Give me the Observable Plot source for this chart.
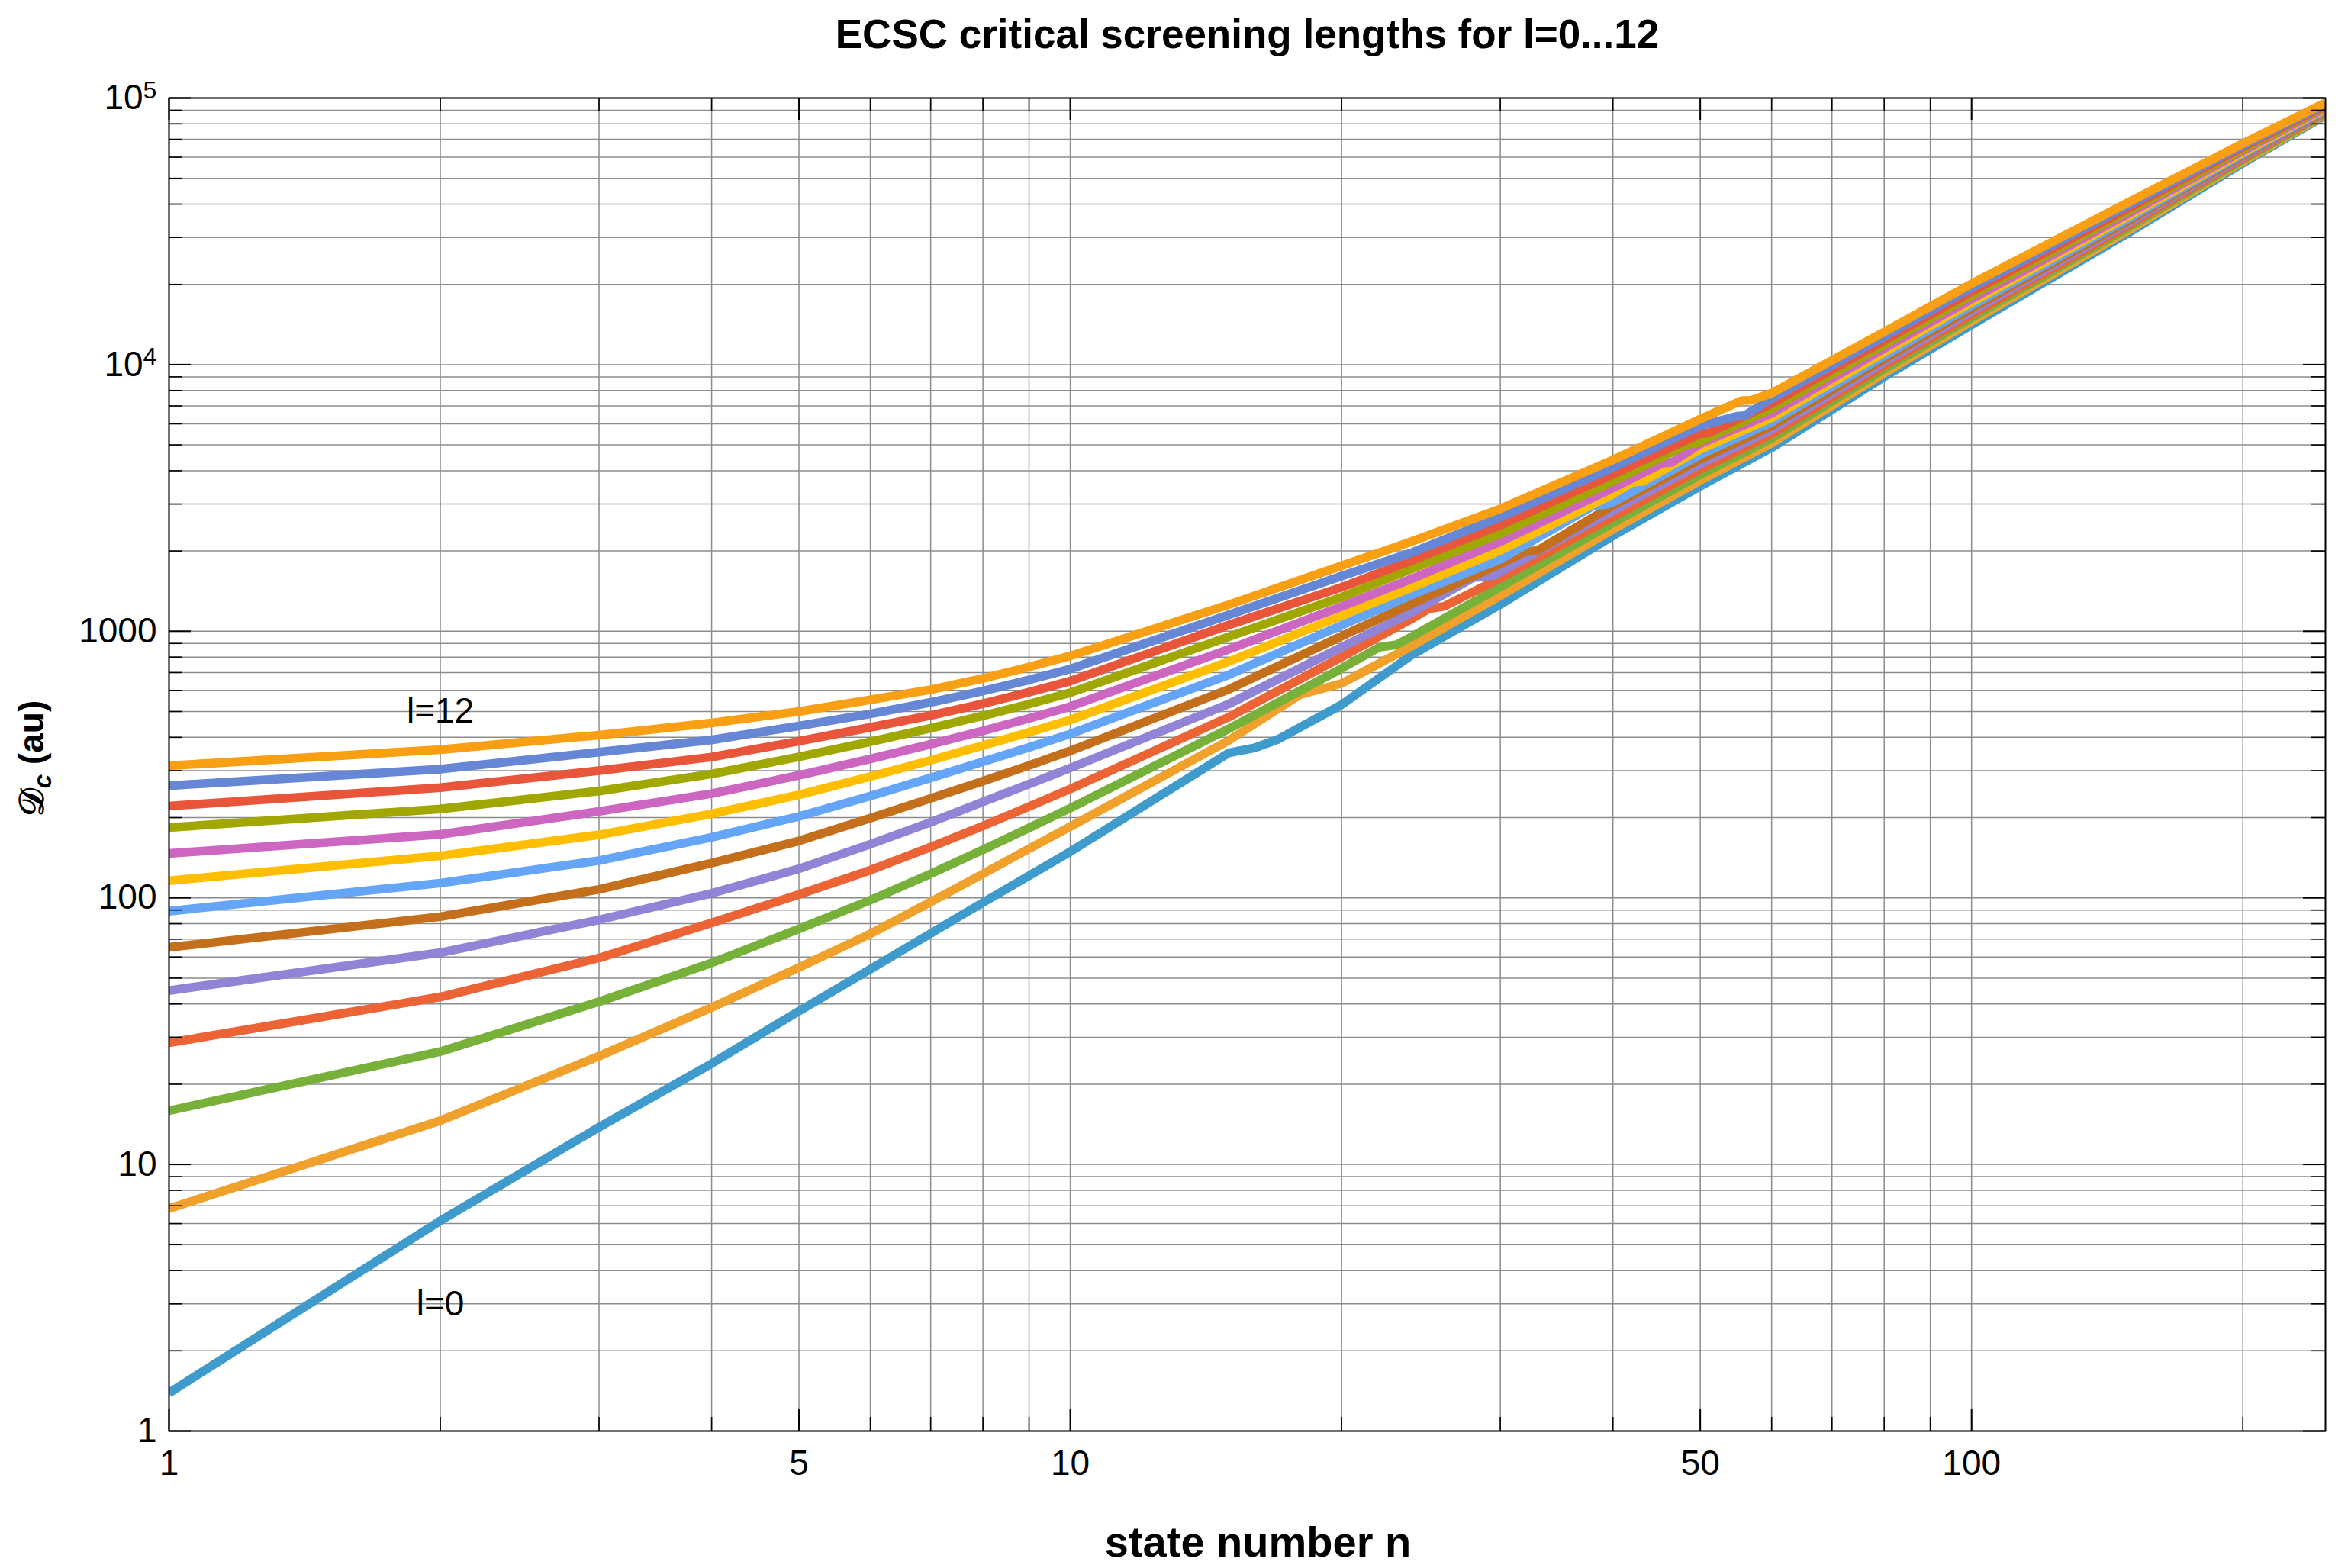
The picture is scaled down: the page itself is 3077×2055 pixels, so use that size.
<!DOCTYPE html>
<html>
<head>
<meta charset="utf-8">
<script src="https://cdn.jsdelivr.net/npm/d3@7"></script>
<script src="https://cdn.jsdelivr.net/npm/@observablehq/plot@0.6"></script>
<style>
  html, body { margin: 0; padding: 0; background: #fff; }
  #chart { width: 3077px; height: 2055px; }
</style>
</head>
<body>
<div id="chart"></div>
<script>
// ---------------- data ----------------
const nGrid = [1, 2, 3, 4, 5, 6, 7, 8, 9, 10, 15, 20, 24, 30, 40, 50, 60, 80, 100, 150, 200, 247];

const D_l0  = [1.39, 6.15, 13.8, 23.9, 37.6, 54, 73.5, 96, 121, 149, 350, 530, 820, 1260, 2280, 3500, 4880, 9000, 14100, 31500, 57000, 86000];
const D_l1  = [6.83, 14.6, 25.5, 38.8, 54.8, 73.3, 96.5, 123, 153, 185, 390, 637, 885, 1359, 2410, 3677, 5079, 9301, 14534, 32210, 57820, 86800];
const D_l2  = [15.9, 26.5, 40.8, 57, 76.5, 98, 123, 151.5, 183, 217, 431, 725, 960, 1466, 2550, 3863, 5287, 9614, 14979, 32950, 58660, 87600];
const D_l3  = [28.6, 42.5, 59.5, 80.5, 103, 127, 155, 186, 220, 256, 477, 800, 1120, 1581, 2686, 4046, 5491, 9917, 15410, 33650, 59460, 88400];
const D_l4  = [44.9, 62.3, 82.7, 104, 128.5, 159, 192, 229, 267, 307, 534, 871, 1182, 1670, 2830, 4240, 5702, 10230, 15849, 34370, 60270, 89170];
const D_l5  = [65.2, 85, 107.6, 135, 163.5, 199, 236, 274, 314, 356, 606, 958, 1275, 1790, 2964, 4413, 5893, 10512, 16248, 35010, 60990, 89850];
const D_l6  = [89.1, 113.6, 138, 168.7, 202, 241, 282, 324, 367, 412, 687, 1053, 1375, 1862, 3050, 4596, 6091, 10803, 16656, 35660, 61710, 90570];
const D_l7  = [116, 143.8, 172.4, 206.5, 243.5, 285, 328, 373, 418, 465, 770, 1144, 1466, 2010, 3269, 4815, 6324, 11143, 17135, 36420, 62560, 91370];
const D_l8  = [146.8, 173, 211, 246, 288, 332, 377, 423, 471, 522, 856, 1238, 1580, 2168, 3445, 5045, 6567, 11495, 17627, 37190, 63400, 92170];
const D_l9  = [183.6, 215.5, 251.6, 291.4, 338, 385, 433, 482, 533, 588, 954, 1343, 1720, 2320, 3654, 5150, 6853, 11906, 18199, 38080, 64370, 93080];
const D_l10 = [221, 259, 300, 337.5, 387, 436, 483, 535, 591, 650, 1056, 1462, 1850, 2500, 3876, 5510, 7150, 12326, 18793, 38990, 65370, 94020];
const D_l11 = [263.5, 303.8, 352, 391, 441.5, 490, 541, 597, 657, 722, 1153, 1610, 1980, 2680, 4111, 5900, 7458, 12764, 19409, 39940, 66370, 94950];
const D_l12 = [313, 359.6, 407.8, 453, 500, 553, 604, 665, 735, 808, 1259, 1760, 2180, 2880, 4390, 6252, 7820, 13270, 20100, 41000, 67500, 96000];

// small plateaus ("kinks") seen on each curve
const kinkN_l0 = [16, 17],      kinkD_l0 = [365, 393];
const kinkN_l1 = [18],          kinkD_l1 = [579];
const kinkN_l2 = [22, 23],      kinkD_l2 = [870, 890];
const kinkN_l3 = [25, 26],      kinkD_l3 = [1215, 1240];
const kinkN_l4 = [28, 29.5],    kinkD_l4 = [1590, 1615];
const kinkN_l5 = [32, 33],      kinkD_l5 = [1990, 2010];
const kinkN_l6 = [38, 39.4],    kinkD_l6 = [2950, 2990];
const kinkN_l7 = [42, 43.2],    kinkD_l7 = [3620, 3650];
const kinkN_l8 = [45.5, 46.5],  kinkD_l8 = [4280, 4300];
const kinkN_l9 = [48.5, 49.5],  kinkD_l9 = [5040, 5060];
const kinkN_l10 = [51],         kinkD_l10 = [5540];
const kinkN_l11 = [55, 56],     kinkD_l11 = [6410, 6440];
const kinkN_l12 = [55.5, 57],   kinkD_l12 = [7320, 7360];

const lValues = [0, 1, 2, 3, 4, 5, 6, 7, 8, 9, 10, 11, 12];
const lineColors = ["#3e9bcb", "#f0a12c", "#77b13a", "#ec6436", "#9183d6", "#c46f1c",
                    "#65a5f8", "#ffbf00", "#cd66c0", "#a0a800", "#e8553a", "#6686d6", "#f89f13"];

const xTickLabels = [1, 5, 10, 50, 100];
const xMinorTicks = [2, 3, 4, 6, 7, 8, 9, 20, 30, 40, 60, 70, 80, 90, 200];
const xGridLines  = [1, 2, 3, 4, 5, 6, 7, 8, 9, 10, 20, 30, 40, 50, 60, 70, 80, 90, 100, 200];
const yTickLabels = [1, 10, 100, 1000, 1e4, 1e5];
const yMinorTicks = [2,3,4,5,6,7,8,9, 20,30,40,50,60,70,80,90, 200,300,400,500,600,700,800,900,
                     2000,3000,4000,5000,6000,7000,8000,9000, 2e4,3e4,4e4,5e4,6e4,7e4,8e4,9e4];
const yGridLines  = [1, ...yMinorTicks, 10, 100, 1000, 1e4, 1e5];

const curveLabels = [{n: 2, D: 500, text: "l=12"}, {n: 2, D: 3, text: "l=0"}];
const titleText = "ECSC critical screening lengths for l=0...12";
const xLabelText = "state number n";

// ---------------- build series ----------------
const D_all = [D_l0, D_l1, D_l2, D_l3, D_l4, D_l5, D_l6, D_l7, D_l8, D_l9, D_l10, D_l11, D_l12];
const kN_all = [kinkN_l0, kinkN_l1, kinkN_l2, kinkN_l3, kinkN_l4, kinkN_l5, kinkN_l6, kinkN_l7, kinkN_l8, kinkN_l9, kinkN_l10, kinkN_l11, kinkN_l12];
const kD_all = [kinkD_l0, kinkD_l1, kinkD_l2, kinkD_l3, kinkD_l4, kinkD_l5, kinkD_l6, kinkD_l7, kinkD_l8, kinkD_l9, kinkD_l10, kinkD_l11, kinkD_l12];

const series = lValues.map((l, i) => {
  const pts = nGrid.map((n, j) => ({n, D: D_all[i][j], l}));
  kN_all[i].forEach((n, j) => pts.push({n, D: kD_all[i][j], l}));
  pts.sort((a, b) => a.n - b.n);
  return pts;
});

// ---------------- layout ----------------
const W = 3077, H = 2055;
const mL = 221, mR = 30, mT = 128, mB = 180;
const plotW = W - mL - mR, plotH = H - mT - mB;
const majorLen = 29, minorLen = 18;
const FONT = "'Liberation Sans', Arial, Helvetica, sans-serif";

const chart = Plot.plot({
  width: W,
  height: H,
  marginLeft: mL, marginRight: mR, marginTop: mT, marginBottom: mB,
  style: {fontFamily: FONT, fontSize: "46px", color: "black", background: "white"},
  x: {type: "log", domain: [1, 247], axis: null},
  y: {type: "log", domain: [1, 1e5], axis: null},
  marks: [
    Plot.gridX(xGridLines, {stroke: "#8c8c8c", strokeOpacity: 1, strokeWidth: 1.5}),
    Plot.gridY(yGridLines, {stroke: "#8c8c8c", strokeOpacity: 1, strokeWidth: 1.5}),
    ...series.map((pts, i) => Plot.line(pts, {
      x: "n", y: "D", stroke: lineColors[i], strokeWidth: 11.5, curve: "linear",
      strokeLinejoin: "round", strokeLinecap: "butt", clip: true
    })),
    // inward ticks: bottom / top
    Plot.ruleX(xTickLabels, {insetTop: plotH - majorLen, stroke: "black", strokeWidth: 2}),
    Plot.ruleX(xTickLabels, {insetBottom: plotH - majorLen, stroke: "black", strokeWidth: 2}),
    Plot.ruleX(xMinorTicks, {insetTop: plotH - minorLen, stroke: "black", strokeWidth: 1.6}),
    Plot.ruleX(xMinorTicks, {insetBottom: plotH - minorLen, stroke: "black", strokeWidth: 1.6}),
    // inward ticks: left / right
    Plot.ruleY(yTickLabels, {insetRight: plotW - majorLen, stroke: "black", strokeWidth: 2}),
    Plot.ruleY(yTickLabels, {insetLeft: plotW - majorLen, stroke: "black", strokeWidth: 2}),
    Plot.ruleY(yMinorTicks, {insetRight: plotW - minorLen, stroke: "black", strokeWidth: 1.6}),
    Plot.ruleY(yMinorTicks, {insetLeft: plotW - minorLen, stroke: "black", strokeWidth: 1.6}),
    Plot.frame({stroke: "black", strokeWidth: 2}),
    Plot.axisX(xTickLabels, {anchor: "bottom", tickSize: 0, tickPadding: 25, fontSize: 46,
      tickFormat: d => String(d), label: null}),
    Plot.axisY(yTickLabels, {anchor: "left", tickSize: 0, tickPadding: 16, fontSize: 46,
      tickFormat: d => d >= 1e4 ? "10^" + Math.round(Math.log10(d)) : String(d), label: null}),
    Plot.text(curveLabels, {x: "n", y: "D", text: "text", fontSize: 46, fill: "black",
      textAnchor: "middle", lineAnchor: "middle"}),
    Plot.text([titleText], {frameAnchor: "top", dy: -66, lineAnchor: "bottom",
      fontSize: 53, fontWeight: "bold", fill: "black"}),
    Plot.text([xLabelText], {frameAnchor: "bottom", dx: 14, dy: 164, lineAnchor: "bottom",
      fontSize: 56, fontWeight: "bold", fill: "black"}),
    Plot.text(["Dc (au)"], {frameAnchor: "left", dx: -179, dy: -8, rotate: -90, textAnchor: "middle",
      lineAnchor: "middle", fontSize: 46, fontWeight: "bold", fill: "black"})
  ]
});

document.getElementById("chart").appendChild(chart);

// superscripts for 10^4, 10^5 and the rotated y label with subscript
d3.select(chart).selectAll("text").each(function() {
  const t = d3.select(this);
  const s = t.text();
  if (/^10\^\d$/.test(s)) {
    const e = s.split("^")[1];
    t.text("10");
    t.append("tspan").attr("dy", "-0.44em").attr("font-size", "0.7em").text(e);
  } else if (s === "Dc (au)") {
    t.text("");
    t.append("tspan").attr("font-family", "'DejaVu Sans', 'Noto Sans', serif")
      .attr("font-style", "normal").text("\u{1D49F}");
    t.append("tspan").attr("font-style", "italic").attr("font-size", "0.72em")
      .attr("dy", "0.3em").text("c");
    t.append("tspan").attr("dy", "-0.216em").text("\u00A0(au)");
  }
});
</script>
</body>
</html>
